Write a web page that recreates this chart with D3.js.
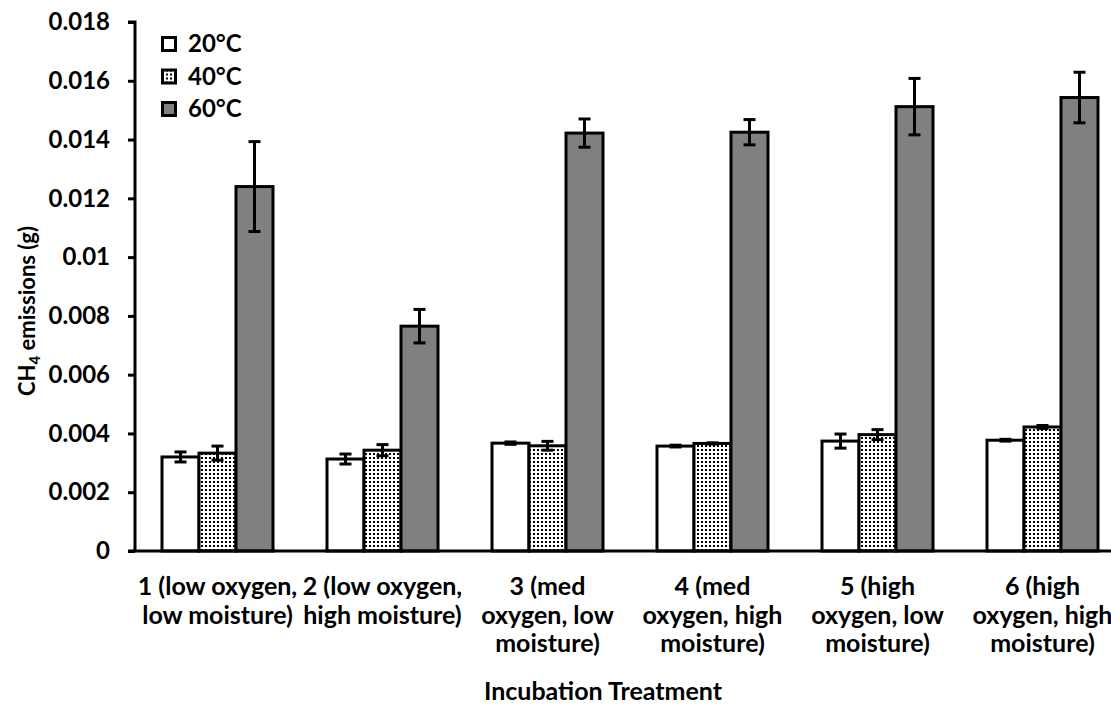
<!DOCTYPE html>
<html>
<head>
<meta charset="utf-8">
<script src="https://cdn.jsdelivr.net/npm/d3@7"></script>
<style>
  body { margin: 0; background: #fff; }
  text { font-family: Lato, "Open Sans", sans-serif; font-weight: 700; fill: #000; }
</style>
</head>
<body>
<div id="chart"></div>
<script>
const treatments = [
  ["1 (low oxygen,", "low moisture)"],
  ["2 (low oxygen,", "high moisture)"],
  ["3 (med", "oxygen, low", "moisture)"],
  ["4 (med", "oxygen, high", "moisture)"],
  ["5 (high", "oxygen, low", "moisture)"],
  ["6 (high", "oxygen, high", "moisture)"]
];
const temps = ["20°C", "40°C", "60°C"];
const mean20 = [0.00320, 0.00313, 0.00367, 0.00357, 0.00374, 0.00377];
const mean40 = [0.00333, 0.00343, 0.00358, 0.00366, 0.00396, 0.00422];
const mean60 = [0.01240, 0.00765, 0.01422, 0.01425, 0.01512, 0.01543];
const err20 = [0.00017, 0.00017, 0.00004, 0.00003, 0.00024, 0.00003];
const err40 = [0.00024, 0.00019, 0.00015, 0.00002, 0.00017, 0.00005];
const err60 = [0.00153, 0.00057, 0.00048, 0.00043, 0.00096, 0.00086];
const yTicks = [0, 0.002, 0.004, 0.006, 0.008, 0.01, 0.012, 0.014, 0.016, 0.018];

const W = 1111, H = 705;
const margin = {top: 22, left: 135, bottom: 154};
const plotRight = 1125;

const svg = d3.select("#chart").append("svg").attr("width", W).attr("height", H);

const defs = svg.append("defs");
const pat = defs.append("pattern")
  .attr("id", "dots").attr("patternUnits", "userSpaceOnUse")
  .attr("width", 4).attr("height", 4);
pat.append("rect").attr("width", 4).attr("height", 4).attr("fill", "#fff");
pat.append("rect").attr("x", 1).attr("y", 1).attr("width", 2).attr("height", 2).attr("fill", "#000");

const fills = ["#fff", "url(#dots)", "#808080"];

const x0 = d3.scaleBand().domain(d3.range(treatments.length))
  .range([margin.left, plotRight]).paddingInner(0).paddingOuter(0);
const x1 = d3.scaleBand().domain(d3.range(temps.length))
  .range([0, 111]);
const y = d3.scaleLinear().domain([0, 0.018]).range([H - margin.bottom, margin.top]);

const rows = [];
[mean20, mean40, mean60].forEach((m, s) => {
  const e = [err20, err40, err60][s];
  m.forEach((v, i) => rows.push({i, s, v, e: e[i]}));
});

const offset = (x0.bandwidth() - 111) / 2;

// bars
svg.append("g").selectAll("rect").data(rows).join("rect")
  .attr("x", d => x0(d.i) + offset + x1(d.s))
  .attr("y", d => y(d.v))
  .attr("width", x1.bandwidth())
  .attr("height", d => y(0) - y(d.v))
  .attr("fill", d => fills[d.s])
  .attr("stroke", "#000").attr("stroke-width", 3);

// error bars
const eb = svg.append("g").attr("stroke", "#000").attr("stroke-width", 3);
rows.forEach(d => {
  const cx = x0(d.i) + offset + x1(d.s) + x1.bandwidth() / 2;
  eb.append("line").attr("x1", cx).attr("x2", cx).attr("y1", y(d.v + d.e)).attr("y2", y(d.v - d.e));
  [d.v + d.e, d.v - d.e].forEach(t => {
    eb.append("line").attr("x1", cx - 6).attr("x2", cx + 6).attr("y1", y(t)).attr("y2", y(t));
  });
});

// y axis
const yAxis = svg.append("g").attr("transform", `translate(${margin.left},0)`)
  .call(d3.axisLeft(y).tickValues(yTicks).tickFormat(d => d === 0 ? "0" : String(+d.toFixed(3))).tickSize(7).tickPadding(18));
yAxis.select(".domain").attr("stroke-width", 3).attr("d", `M-7,${y(0.018)}H0V${y(0)}`);
yAxis.selectAll(".tick line").attr("stroke-width", 3);
yAxis.selectAll(".tick text").style("font-size", "24px").attr("font-family", null);

// x axis
svg.append("line").attr("x1", margin.left - 7).attr("x2", W).attr("y1", y(0)).attr("y2", y(0))
  .attr("stroke", "#000").attr("stroke-width", 3);

const xl = svg.append("g");
treatments.forEach((lines, i) => {
  const t = xl.append("text").attr("text-anchor", "middle").style("font-size", "25px")
    .attr("x", x0(i) + x0.bandwidth() / 2).attr("y", 595);
  lines.forEach((l, k) => t.append("tspan").attr("x", x0(i) + x0.bandwidth() / 2).attr("dy", k ? 28.5 : 0).text(l));
});

svg.append("text").attr("x", 603).attr("y", 700).attr("text-anchor", "middle")
  .style("font-size", "25px").text("Incubation Treatment");

const yt = svg.append("text").attr("transform", "translate(35,311) rotate(-90)")
  .attr("text-anchor", "middle").style("font-size", "22px");
yt.append("tspan").text("CH");
yt.append("tspan").attr("dy", 5).style("font-size", "15px").text("4");
yt.append("tspan").attr("dy", -5).text(" emissions (g)");

// legend
const lg = svg.append("g").attr("transform", "translate(161,36)");
temps.forEach((t, k) => {
  const r = lg.append("g").attr("transform", `translate(0,${k * 32.5})`);
  r.append("rect").attr("x", 1.5).attr("y", 1.5).attr("width", 13).attr("height", 13)
    .attr("fill", fills[k]).attr("stroke", "#000").attr("stroke-width", 3);
  r.append("text").attr("x", 27).attr("y", 16).style("font-size", "24px").text(t);
});
</script>
</body>
</html>
